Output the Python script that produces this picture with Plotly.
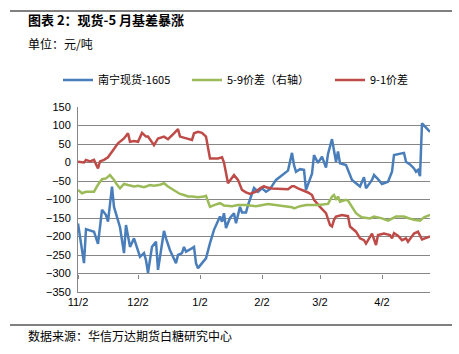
import plotly.graph_objects as go

YEAR = {"11": "2015", "12": "2015"}
def d(s):
    m = s[:2]
    return f"{YEAR.get(m, '2016')}-{s}"

blue_dates = ["11-02","11-05","11-06","11-08","11-10","11-12","11-14","11-16","11-17","11-19","11-20","11-23","11-25","11-26","11-28","11-30",
 "12-03","12-05","12-06","12-07","12-09","12-11","12-12","12-15","12-16","12-18","12-21","12-22","12-24","12-25","12-26","12-28","12-30","12-31",
 "01-01","01-03","01-05","01-07","01-09","01-12","01-13","01-14","01-15","01-17","01-19","01-20","01-22","01-23","01-25","01-26","01-28","01-29","01-31",
 "02-02","02-04","02-06","02-09","02-14","02-15","02-17","02-18","02-19","02-21","02-23","02-24","02-27","02-28",
 "03-01","03-03","03-05","03-06","03-08","03-10","03-11","03-12","03-15","03-18","03-20","03-22","03-24","03-25","03-28","03-29","03-31",
 "04-02","04-05","04-07","04-08","04-13","04-14","04-16","04-18","04-19","04-20","04-21","04-22","04-26"]
blue_vals = [-165,-272,-180,-183,-187,-220,-128,-142,-160,-65,-120,-175,-245,-169,-228,-205,
 -255,-245,-264,-298,-228,-214,-290,-185,-205,-237,-272,-250,-245,-228,-241,-235,-228,-272,
 -286,-272,-259,-218,-182,-146,-160,-137,-177,-150,-137,-164,-120,-135,-135,-115,-83,-69,-79,
 -70,-79,-72,-47,-25,-22,26,-7,-25,-18,-20,-74,-30,20,
 -1,16,-14,23,63,2,30,-2,-7,-47,-56,-65,-40,-70,-47,-34,-45,
 -58,-52,-25,20,26,2,-5,-16,-25,-20,-37,106,83]

red_dates = ["11-02","11-05","11-06","11-08","11-10","11-12","11-13","11-15","11-17","11-20","11-22","11-25","11-27","11-28","11-30",
 "12-02","12-04","12-06","12-07","12-10","12-12","12-15","12-17","12-20","12-22","12-23","12-26","12-29","12-30",
 "01-01","01-03","01-05","01-07","01-11","01-13","01-14","01-16","01-19","01-21","01-23","01-25","01-27","01-30",
 "02-01","02-03","02-04","02-07","02-11","02-15","02-17","02-18","02-20","02-23","02-25","02-27","02-28",
 "03-02","03-05","03-07","03-08","03-09","03-10","03-13","03-16","03-17","03-20","03-22","03-24","03-25","03-28","03-30","03-31",
 "04-03","04-06","04-07","04-08","04-10","04-12","04-14","04-15","04-18","04-20","04-22","04-24","04-26"]
red_vals = [2,0,7,3,7,-16,3,7,14,38,52,65,79,56,58,
 56,80,70,70,47,65,70,63,79,90,70,65,61,79,
 83,80,70,11,11,14,0,-56,-34,-47,-74,-81,-85,-79,
 -70,-64,-67,-70,-72,-72,-64,-64,-70,-76,-81,-88,-101,
 -120,-137,-169,-173,-155,-146,-142,-145,-173,-187,-205,-210,-219,-192,-223,-196,
 -192,-196,-205,-191,-198,-210,-205,-214,-192,-187,-208,-203,-200]

green_dates = ["11-02","11-04","11-06","11-08","11-10","11-12","11-14","11-16","11-18","11-20","11-21","11-23","11-25","11-27","11-30",
 "12-02","12-05","12-08","12-10","12-13","12-15","12-17","12-19","12-23","12-25","12-27","12-29",
 "01-01","01-04","01-05","01-07","01-09","01-12","01-14","01-18","01-21","01-25","01-30",
 "02-05","02-11","02-14","02-17","02-18","02-21","02-24",
 "03-01","03-06","03-08","03-09","03-10","03-11","03-12","03-15","03-16","03-18","03-20","03-22","03-23","03-27","03-29",
 "04-02","04-05","04-09","04-13","04-15","04-18","04-21","04-23","04-26"]
green_vals = [-74,-83,-79,-79,-79,-60,-45,-43,-34,-47,-56,-70,-58,-61,-65,
 -63,-67,-61,-63,-60,-56,-65,-72,-85,-88,-92,-92,
 -94,-92,-90,-120,-115,-110,-116,-118,-115,-115,-118,
 -112,-116,-118,-121,-124,-118,-115,
 -115,-112,-92,-88,-101,-92,-106,-101,-103,-120,-137,-145,-148,-151,-146,
 -151,-157,-146,-146,-150,-155,-157,-148,-142]

names = ["南宁现货-1605", "5-9价差（右轴）", "9-1价差"]
tick_dates = ["2015-11-02", "2015-12-02", "2016-01-02", "2016-02-02", "2016-03-02", "2016-04-02"]
tick_text = ["11/2", "12/2", "1/2", "2/2", "3/2", "4/2"]
y_ticks = list(range(-350, 151, 50))

BLUE = "#4A7EBB"; GREEN = "#9BBB59"; RED = "#BE4B48"
FONT = "Liberation Sans, Noto Sans CJK SC, sans-serif"
CJK = "Noto Sans CJK SC, sans-serif"

def px_x(x):
    return (x - 78) / 352
def px_y(y):
    return (292 - y) / 185

fig = go.Figure()
fig.add_trace(go.Scatter(x=[d(s) for s in blue_dates], y=blue_vals, mode="lines", name=names[0],
                         line=dict(color=BLUE, width=2.5), legend="legend"))
fig.add_trace(go.Scatter(x=[d(s) for s in green_dates], y=green_vals, mode="lines", name=names[1],
                         line=dict(color=GREEN, width=2.5), xaxis="x2", yaxis="y2", legend="legend2"))
fig.add_trace(go.Scatter(x=[d(s) for s in red_dates], y=red_vals, mode="lines", name=names[2],
                         line=dict(color=RED, width=2.5), legend="legend3"))

def leg(xpx):
    return dict(orientation="h", x=px_x(xpx), y=px_y(80), xanchor="left", yanchor="middle",
                font=dict(size=11, family=CJK, color="black"), bgcolor="rgba(0,0,0,0)",
                itemwidth=30, borderwidth=0)

xr = ["2015-11-02", "2016-04-26"]
fig.update_layout(
    width=459, height=354,
    margin=dict(l=78, r=29, t=107, b=62),
    paper_bgcolor="white", plot_bgcolor="white",
    font=dict(family=FONT, size=11, color="black"),
    xaxis=dict(type="date", range=xr, tickvals=tick_dates, ticktext=tick_text,
               showgrid=False, showline=True, linecolor="#868686", linewidth=1,
               ticks="", tickfont=dict(size=11, family=FONT), ticklabelstandoff=0),
    xaxis2=dict(type="date", range=xr, overlaying="x", anchor="free", position=0.1,
                tickvals=tick_dates, showticklabels=False, showgrid=False, showline=False,
                ticks="outside", ticklen=4, tickcolor="#868686", tickwidth=1),
    yaxis=dict(range=[-350, 150], tickvals=y_ticks, showgrid=True, gridcolor="#868686", gridwidth=1,
               showline=True, linecolor="#868686", linewidth=1, zeroline=False,
               ticks="", tickfont=dict(size=11, family=FONT), ticklabelstandoff=4),
    yaxis2=dict(range=[-350, 150], overlaying="y", side="right", showticklabels=False,
                showgrid=False, showline=False, zeroline=False, ticks=""),
    showlegend=True,
    legend=leg(58), legend2=leg(187), legend3=leg(330),
)

fig.add_shape(type="line", xref="paper", yref="paper", x0=px_x(10), x1=px_x(452), y0=px_y(11), y1=px_y(11),
              line=dict(color="black", width=1))
fig.add_shape(type="line", xref="paper", yref="paper", x0=px_x(10), x1=px_x(452), y0=px_y(325), y1=px_y(325),
              line=dict(color="black", width=1))

fig.add_annotation(text="<b>图表 2：现货-5 月基差暴涨</b>", xref="paper", yref="paper", x=px_x(26), y=px_y(20),
                   xanchor="left", yanchor="middle", showarrow=False, font=dict(size=13, family=CJK, color="black"))
fig.add_annotation(text="单位：元/吨", xref="paper", yref="paper", x=px_x(26), y=px_y(43),
                   xanchor="left", yanchor="middle", showarrow=False, font=dict(size=12, family=CJK, color="black"))
fig.add_annotation(text="数据来源：华信万达期货白糖研究中心", xref="paper", yref="paper", x=px_x(26), y=px_y(335),
                   xanchor="left", yanchor="middle", showarrow=False, font=dict(size=12, family=CJK, color="black"))

fig.write_html("out.html")
